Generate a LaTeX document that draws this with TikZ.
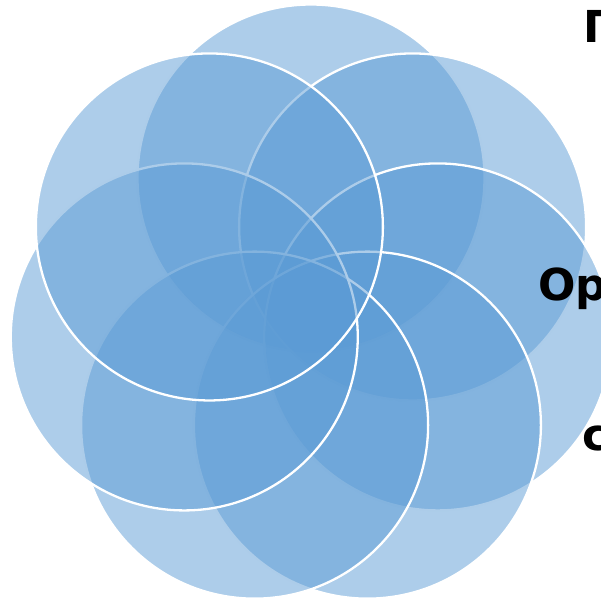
\documentclass[tikz,border=0pt]{standalone}
\usepackage{fontspec}
\setmainfont{DejaVu Sans}
\usetikzlibrary{calc}
\begin{document}
\begin{tikzpicture}[x=1pt,y=-1pt,
  petal/.style={fill={rgb,255:red,91;green,155;blue,213}, fill opacity=0.5, draw=white, draw opacity=1, line width=2.3pt},
  lbl/.style={anchor=base west, inner sep=0pt, font=\fontsize{44}{50}\selectfont\bfseries, text=black}]
\useasboundingbox (0,0) rectangle (601,601);
\clip (0,0) rectangle (601,601);
\foreach \i/\a in {1/-90,2/-38.571,3/12.857,4/64.286,5/115.714,6/167.143,7/218.571} {
  \path[petal] ($(311,308)+(\a:130)$) circle[radius=173.5];
}
\node[lbl] (t1) at (583,43) {Г};
\node[lbl] (t2) at (538,300) {Ор};
\node[lbl] (t3) at (582,450) {с};
\end{tikzpicture}
\end{document}
